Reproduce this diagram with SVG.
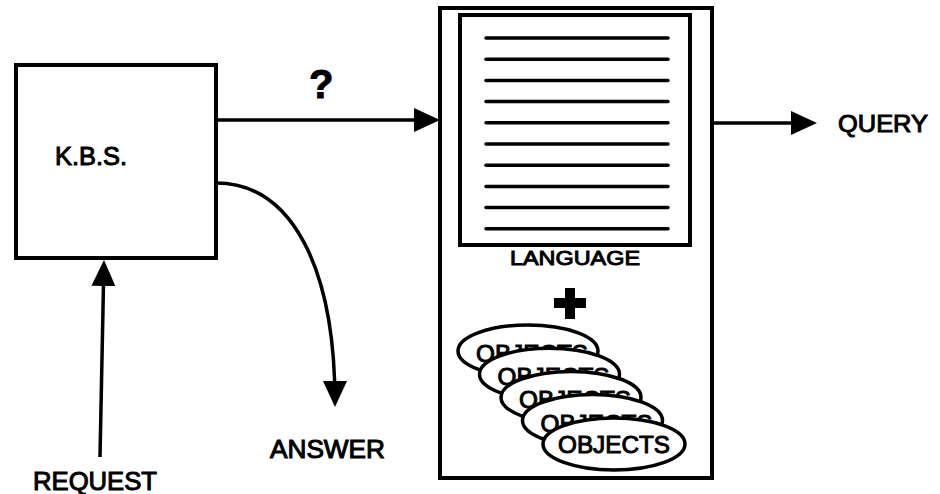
<svg xmlns="http://www.w3.org/2000/svg" width="940" height="494" viewBox="0 0 940 494">
<style>
.t{font-family:"Liberation Sans",Arial,Helvetica,sans-serif;fill:#000;stroke:#000;stroke-width:1}
.box{fill:#fff;stroke:#000;stroke-width:4}
.ln{stroke:#000;stroke-width:3.5;stroke-linecap:round}
.con{fill:none;stroke:#000;stroke-width:3.5}
.ell{fill:#fff;stroke:#000;stroke-width:3.5}
</style>
<defs>
<marker id="ah" viewBox="0 0 26 24" refX="22" refY="12" markerWidth="26" markerHeight="24" markerUnits="userSpaceOnUse" orient="auto">
<path d="M0,0 L26,12 L0,24 Z" fill="#000"/>
</marker>
</defs>
<rect width="940" height="494" fill="#fff"/>

<g id="kbs">
<rect class="box" x="16" y="65" width="200" height="193"/>
<text class="t" x="55" y="165" font-size="25" textLength="72" lengthAdjust="spacingAndGlyphs">K.B.S.</text>
</g>

<g id="system">
<rect class="box" x="440" y="8" width="272" height="470"/>
<g id="language">
<rect class="box" x="460" y="15" width="230" height="230"/>
<g>
<line class="ln" x1="486" y1="38" x2="668" y2="38"/>
<line class="ln" x1="486" y1="59.2" x2="668" y2="59.2"/>
<line class="ln" x1="486" y1="80.4" x2="668" y2="80.4"/>
<line class="ln" x1="486" y1="101.6" x2="668" y2="101.6"/>
<line class="ln" x1="486" y1="122.8" x2="668" y2="122.8"/>
<line class="ln" x1="486" y1="144" x2="668" y2="144"/>
<line class="ln" x1="486" y1="165.2" x2="668" y2="165.2"/>
<line class="ln" x1="486" y1="186.4" x2="668" y2="186.4"/>
<line class="ln" x1="486" y1="207.6" x2="668" y2="207.6"/>
<line class="ln" x1="486" y1="228.8" x2="668" y2="228.8"/>
</g>
<text class="t" x="510" y="265" font-size="21" textLength="130" lengthAdjust="spacingAndGlyphs">LANGUAGE</text>
</g>
<path id="plus" d="M565,288 h10 v10 h11 v10 h-11 v11 h-10 v-11 h-11 v-10 h11 Z" fill="#000"/>
<g id="objects">
<ellipse class="ell" cx="528" cy="351" rx="70" ry="26"/>
<text class="t" x="476" y="362" font-size="24" textLength="112" lengthAdjust="spacingAndGlyphs">OBJECTS</text>
<ellipse class="ell" cx="549.5" cy="374.2" rx="70" ry="26"/>
<text class="t" x="497.5" y="385.2" font-size="24" textLength="112" lengthAdjust="spacingAndGlyphs">OBJECTS</text>
<ellipse class="ell" cx="571" cy="397.4" rx="70" ry="26"/>
<text class="t" x="519" y="408.4" font-size="24" textLength="112" lengthAdjust="spacingAndGlyphs">OBJECTS</text>
<ellipse class="ell" cx="592.5" cy="420.6" rx="70" ry="26"/>
<text class="t" x="540.5" y="431.6" font-size="24" textLength="112" lengthAdjust="spacingAndGlyphs">OBJECTS</text>
<ellipse class="ell" cx="614" cy="444" rx="71" ry="26"/>
<text class="t" x="558" y="453" font-size="24" textLength="112" lengthAdjust="spacingAndGlyphs">OBJECTS</text>
</g>
</g>

<g id="connectors">
<path class="con" d="M216,120 L436,120" marker-end="url(#ah)"/>
<path class="con" d="M712,123 L813,123" marker-end="url(#ah)"/>
<path class="con" d="M216,183 C292,183 335,268 335,403" marker-end="url(#ah)"/>
<path class="con" d="M100,457 L103.9,264" marker-end="url(#ah)"/>
</g>

<g id="labels">
<text class="t" x="309" y="98" font-size="40" font-weight="bold">?</text>
<text class="t" x="838" y="132" font-size="24" textLength="90" lengthAdjust="spacingAndGlyphs">QUERY</text>
<text class="t" x="270" y="458" font-size="25" textLength="115" lengthAdjust="spacingAndGlyphs">ANSWER</text>
<text class="t" x="33" y="490" font-size="25" textLength="124" lengthAdjust="spacingAndGlyphs">REQUEST</text>
</g>
</svg>
